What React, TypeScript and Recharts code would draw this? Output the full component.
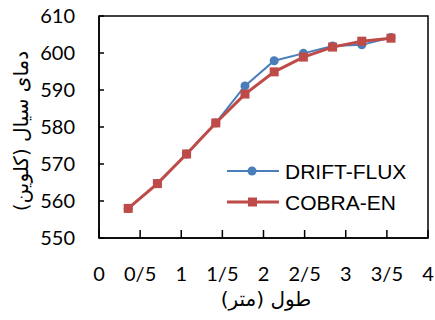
import { Line, LineChart, ReferenceArea, XAxis, YAxis } from "recharts";

const positions = [0.355, 0.71, 1.065, 1.42, 1.775, 2.13, 2.485, 2.84, 3.195, 3.55];
const driftFlux = [558, 564.7, 572.7, 581.1, 591.1, 597.9, 599.9, 601.9, 602.2, 604.2];
const cobraEn = [558, 564.7, 572.7, 581.1, 588.9, 594.9, 598.9, 601.6, 603.2, 604];
const xTicks = [0, 0.5, 1, 1.5, 2, 2.5, 3, 3.5, 4];
const yTicks = [550, 560, 570, 580, 590, 600, 610];

const BLUE = "#4a7ebb";
const RED = "#be4b48";
const TICK_FONT = "Lato, 'Open Sans', sans-serif";

const data = positions.map((x, i) => ({ x, drift: driftFlux[i], cobra: cobraEn[i] }));

// persian style decimals: 0.5 -> 0/5
function fmt(v: number): string {
  return String(v).replace(".", "/");
}

function XTick(props: any) {
  const { x, y, payload } = props;
  return (
    <g>
      <line x1={x} x2={x} y1={y} y2={y - 8} stroke="#000" strokeWidth={1.5} />
      <text x={x} y={y + 43} textAnchor="middle" fontSize={20} fontFamily={TICK_FONT} fill="#000">
        {fmt(payload.value)}
      </text>
    </g>
  );
}

function YTick(props: any) {
  const { x, y, payload } = props;
  return (
    <g>
      <line x1={x} x2={x + 5} y1={y} y2={y} stroke="#000" strokeWidth={1.5} />
      <text x={x - 24} y={y + 7} textAnchor="end" fontSize={20} fontFamily={TICK_FONT} fill="#000">
        {payload.value}
      </text>
    </g>
  );
}

function Square(props: any) {
  const { cx, cy } = props;
  return <rect x={cx - 4.5} y={cy - 4.5} width={9} height={9} fill={RED} />;
}

function LegendBox() {
  const rows = [
    { name: "DRIFT-FLUX", color: BLUE, square: false, y: 171 },
    { name: "COBRA-EN", color: RED, square: true, y: 202 },
  ];
  return (
    <svg width={435} height={320} style={{ position: "absolute", left: 0, top: 0, pointerEvents: "none" }}>
      {rows.map((r) => (
        <g key={r.name}>
          <line x1={227} x2={279} y1={r.y} y2={r.y} stroke={r.color} strokeWidth={r.square ? 3 : 2} />
          {r.square ? (
            <rect x={248} y={r.y - 4.5} width={9} height={9} fill={r.color} />
          ) : (
            <circle cx={252} cy={r.y} r={4.5} fill={r.color} />
          )}
          <text x={285} y={r.y + 8} fontSize={21} fontFamily="'Liberation Sans', Arial, sans-serif" fill="#000">
            {r.name}
          </text>
        </g>
      ))}
      <text
        transform="translate(28,131) rotate(-90)"
        textAnchor="middle"
        fontSize={20}
        fontFamily="'DejaVu Sans', sans-serif"
        fill="#000"
      >
        {"\u200Fدمای سیال (کلوین)\u200F"}
      </text>
      <text x={266} y={306} textAnchor="middle" fontSize={20} fontFamily="'DejaVu Sans', sans-serif" fill="#000">
        {"\u200Fطول (متر)\u200F"}
      </text>
    </svg>
  );
}

export default function App() {
  return (
    <div style={{ position: "absolute", left: 0, top: 0, width: 435, height: 320, background: "#fff" }}>
      <LineChart width={435} height={320} data={data} margin={{ top: 16, right: 7, bottom: 0, left: 0 }}>
        <XAxis
          dataKey="x"
          type="number"
          domain={[0, 4]}
          ticks={xTicks}
          interval={0}
          height={82}
          tickSize={0}
          tickMargin={0}
          tickLine={false}
          axisLine={{ stroke: "#000", strokeWidth: 1.5 }}
          tick={<XTick />}
        />
        <YAxis
          type="number"
          domain={[550, 610]}
          ticks={yTicks}
          interval={0}
          width={99}
          tickSize={0}
          tickMargin={0}
          tickLine={false}
          axisLine={{ stroke: "#000", strokeWidth: 1.5 }}
          tick={<YTick />}
        />
        <ReferenceArea x1={0} x2={4} y1={550} y2={610} fill="none" stroke="#000" strokeWidth={1.5} />
        <Line
          dataKey="drift"
          stroke={BLUE}
          strokeWidth={2}
          dot={{ r: 4.5, fill: BLUE, stroke: BLUE, strokeWidth: 0 }}
          isAnimationActive={false}
        />
        <Line
          dataKey="cobra"
          stroke={RED}
          strokeWidth={3}
          dot={<Square />}
          isAnimationActive={false}
        />
      </LineChart>
      <LegendBox />
    </div>
  );
}
